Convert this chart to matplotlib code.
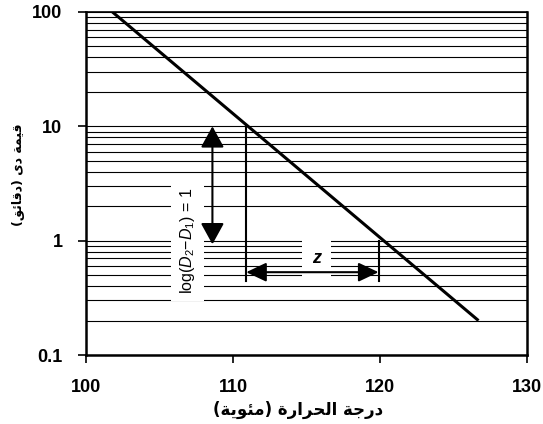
import matplotlib
matplotlib.use("Agg")
import matplotlib.pyplot as plt
from matplotlib.ticker import FixedLocator, NullFormatter, LogLocator

plt.rcParams['mathtext.fontset'] = 'custom'
plt.rcParams['mathtext.rm'] = 'Liberation Sans'
plt.rcParams['mathtext.it'] = 'Liberation Sans:italic'

# ---- data ----
temps = [101.8, 126.7]          # survivor line (°C)
d_values = [100, 0.2]           # D value (min)
ref_temps = [110.9, 119.9]      # temperatures where D = 10 and D = 1
ref_d = [10, 1]
bracket_bottom = 0.44
z_arrow_y = 0.53
log_arrow_x = 108.6
log_arrow_range = [10, 0.93]
x_ticks = [100, 110, 120, 130]
y_ticks = [0.1, 1, 10, 100]
y_tick_labels = ['0.1', '1', '10', '100']

# Arabic labels written in presentation forms (visual order)
xlabel = "(\ufe94\ufef3\ufeee\ufe8c\ufee3) \ufe93\ufead\ufe8d\ufeae\ufea4\ufedf\ufe8d \ufe94\ufe9f\ufead\ufea9"
ylabel = "(\ufed6\ufe8b\ufe8e\ufed7\ufea9) \ufeef\ufea9 \ufe94\ufee4\ufef4\ufed7"

fig = plt.figure(figsize=(5.43, 4.24), dpi=100)
ax = fig.add_axes([86/543, 1-355/424, (527-86)/543, (355-12)/424])

ax.set_yscale('log')
ax.set_xlim(100, 130)
ax.set_ylim(0.1, 100)

ax.yaxis.set_major_locator(FixedLocator(y_ticks))
ax.set_yticklabels(y_tick_labels)
ax.yaxis.set_minor_locator(LogLocator(base=10, subs=range(2, 10)))
ax.yaxis.set_minor_formatter(NullFormatter())
ax.set_xticks(x_ticks)
ax.set_xticklabels([str(t) for t in x_ticks])

ax.grid(True, axis='y', which='both', color='black', lw=0.8, zorder=1)
ax.tick_params(axis='both', which='major', direction='out', length=6, width=1.2,
               labelsize=13, pad=11)
ax.tick_params(axis='y', which='minor', length=0)
for lab in ax.get_xticklabels() + ax.get_yticklabels():
    lab.set_fontfamily('Liberation Sans')
    lab.set_fontweight('bold')

for s in ['left', 'right', 'bottom']:
    ax.spines[s].set_linewidth(1.8)
ax.spines['top'].set_linewidth(1.2)

# survivor line
ax.plot(temps, d_values, color='black', lw=2.2, zorder=4, solid_capstyle='butt')

# vertical reference lines
ax.plot([ref_temps[0], ref_temps[0]], [ref_d[0], bracket_bottom], color='black', lw=1.5, zorder=4)
ax.plot([ref_temps[1], ref_temps[1]], [ref_d[1], bracket_bottom], color='black', lw=1.5, zorder=4)

# z arrow
ax.annotate('', xy=(ref_temps[0], z_arrow_y), xytext=(ref_temps[1], z_arrow_y),
            arrowprops=dict(arrowstyle='<|-|>,head_length=0.95,head_width=0.45',
                            mutation_scale=13, lw=1.5, color='black',
                            shrinkA=0, shrinkB=0), zorder=5)
ax.text(115.7, 0.70, 'z', fontsize=13, fontstyle='italic', fontweight='bold',
        fontfamily='Liberation Sans', ha='center', va='center', zorder=3,
        bbox=dict(facecolor='white', edgecolor='none', boxstyle='square,pad=0.55'))

# log arrow
ax.annotate('', xy=(log_arrow_x, log_arrow_range[0]), xytext=(log_arrow_x, log_arrow_range[1]),
            arrowprops=dict(arrowstyle='<|-|>,head_length=1.0,head_width=0.55',
                            mutation_scale=13, lw=1.5, color='black',
                            shrinkA=0, shrinkB=0), zorder=5)
ax.text(106.9, 1.0, r'log($D_2$$-$$D_1$) = 1', rotation=90, fontsize=11.5,
        fontfamily='Liberation Sans', ha='center', va='center', zorder=3,
        bbox=dict(facecolor='white', edgecolor='none', pad=5))

ax.set_xlabel(xlabel, fontsize=12, fontfamily='DejaVu Sans', fontweight='bold')
ax.set_ylabel(ylabel, fontsize=9, fontfamily='DejaVu Sans', fontweight='bold')
ax.xaxis.set_label_coords(0.48, -0.135)
ax.yaxis.set_label_coords(-0.138, 0.525)

fig.savefig('out.png', dpi=100)
